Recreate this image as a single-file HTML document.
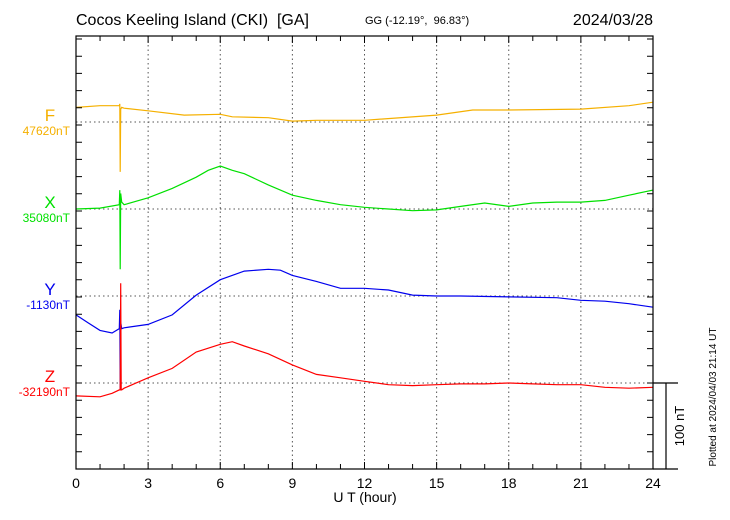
<!DOCTYPE html>
<html><head><meta charset="utf-8"><style>
html,body{margin:0;padding:0;background:#fff;}
svg{display:block;font-family:"Liberation Sans",sans-serif;}
</style></head><body>
<svg id="chart" width="730" height="520">
<text x="76" y="25" font-size="16">Cocos Keeling Island (CKI)&#160;&#160;[GA]</text>
<text x="365" y="24" font-size="11">GG (-12.19°,&#160;&#160;96.83°)</text>
<text x="653" y="25" font-size="16" text-anchor="end">2024/03/28</text>
<text x="365" y="502" font-size="14" text-anchor="middle">U T (hour)</text>
<text transform="translate(716,397) rotate(-90)" font-size="10" text-anchor="middle">Plotted at 2024/04/03 21:14 UT</text>
<text transform="translate(684,426) rotate(-90)" font-size="13" text-anchor="middle">100 nT</text>
<g id="grid"></g><g id="series"></g><g id="axes"></g>
</svg>
<script>
const hoursF=[0,1,1.8,1.82,1.84,1.86,1.9,2,3,4.5,6,6.5,8,9,10,12,15,16.5,18,21,23,24];
const valsF=[17,19,19,21,-58,15,17,16,13,8,9,6,5,1,2,2,8,14,14,15,19,23];
const hoursX=[0,1,1.8,1.82,1.84,1.86,1.9,2,3,4,5,5.5,6,6.5,7,8,9,10,11,12,13,14,15,16,17,18,19,20,21,22,23,24];
const valsX=[0,1,5,22,-70,18,8,5,13,24,37,45,50,45,41,28,16,10,5,2,0,-2,-1,3,7,3,7,8,8,10,16,22];
const hoursY=[0,0.5,1,1.5,1.8,1.82,1.84,1.86,1.9,2,3,4,5,6,7,8,8.5,9,10,11,12,13,14,15,16,18,20,21,22,23,24];
const valsY=[-22,-31,-40,-43,-38,-16,-109,-30,-38,-37,-33,-22,1,19,29,31,30,24,17,9,9,7,1,0,0,-1,-2,-5,-6,-9,-13];
const hoursZ=[0,1,1.5,1.8,1.84,1.86,1.88,1.9,2,3,4,5,6,6.5,7,8,9,10,11,12,13,14,15,16,17,18,19,20,21,22,23,24];
const valsZ=[-15,-16,-12,-8,-8,116,-8,-8,-6,6,17,36,45,48,43,34,21,10,6,2,-2,-3,-2,-1,-1,0,-1,-2,-2,-5,-6,-5];
const baseLabels=["47620nT","35080nT","-1130nT","-32190nT"];
const compNames=["F","X","Y","Z"];
const xTicks=[0,3,6,9,12,15,18,21,24];

const L=76,R=653,T=36,B=469,PXNT=0.86;
const baselines=[122,209,296,383];
const colors=["#f5b000","#00e000","#0000ee","#ff0000"];
const xs=h=>L+(R-L)*h/24;
const ys=(i,v)=>baselines[i]-v*PXNT;
const NS="http://www.w3.org/2000/svg";
function mk(tag,parent,attrs){const e=document.createElementNS(NS,tag);for(const k in attrs)e.setAttribute(k,attrs[k]);parent.appendChild(e);return e;}
const grid=document.getElementById('grid'),ser=document.getElementById('series'),ax=document.getElementById('axes');

xTicks.forEach((h,i)=>{
  if(i>0&&i<xTicks.length-1){const g=mk('line',grid,{x1:xs(h),x2:xs(h),y1:T,y2:B,stroke:'#555','stroke-dasharray':'1.5,3'});
  
  }
  const t=mk('text',ax,{x:xs(h),y:488,'font-size':14,'text-anchor':'middle'});t.textContent=h;
  
  
});
baselines.forEach((b,i)=>{
  const g=mk('line',grid,{x1:L,x2:R,y1:b,y2:b,stroke:'#555','stroke-dasharray':'1.5,3'});
  
  
  const n=mk('text',ax,{x:50,y:b-1,'font-size':17,'text-anchor':'middle',fill:colors[i]});n.textContent=compNames[i];
  
  
  const v=mk('text',ax,{x:70,y:b+13,'font-size':12,'text-anchor':'end',fill:colors[i]});v.textContent=baseLabels[i];
  
  
});
[[hoursF,valsF],[hoursX,valsX],[hoursY,valsY],[hoursZ,valsZ]].forEach(([hs,vs],i)=>{
  const p=mk('polyline',ser,{points:hs.map((h,k)=>xs(h).toFixed(1)+','+ys(i,vs[k]).toFixed(1)).join(' '),fill:'none',stroke:colors[i],'stroke-width':1.2});
  
  
});
let d='';
for(let h=1;h<24;h++){if(h%3)d+=`M${xs(h)},${B}v-5M${xs(h)},${T}v5`;else d+=`M${xs(h)},${B}v-7M${xs(h)},${T}v7`;}
for(let y=B;y>T;y-=PXNT*20){d+=`M${L},${y}h6M${R},${y}h-6`;}
const tk=mk('path',ax,{d:d,stroke:'#000','stroke-width':1,fill:'none'});


const fr=mk('rect',ax,{x:L,y:T,width:R-L,height:B-T,fill:'none',stroke:'#000','stroke-width':1.2});


const sb=mk('path',ax,{d:`M${R},383h25M${R},${B}h25M666,383V${B}`,stroke:'#000','stroke-width':1.2,fill:'none'});


</script>
</body></html>
